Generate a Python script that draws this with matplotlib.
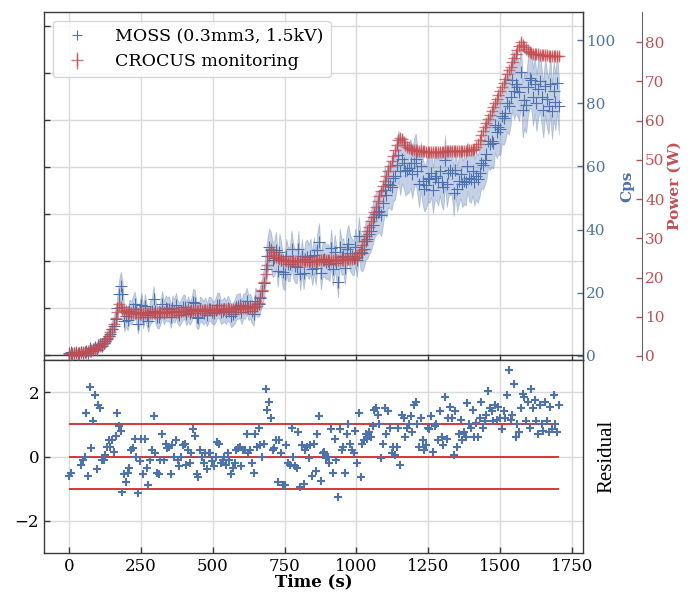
import numpy as np
import matplotlib
matplotlib.use("Agg")
import matplotlib.pyplot as plt
from matplotlib.lines import Line2D

# Sampling times of the run (s)
time_s = np.arange(0, 1705, 6)

# Reactor power from the CROCUS monitoring chain (W)
power_w = [
    0.6, 0.6, 0.65, 0.7, 0.75, 0.8, 0.85, 0.9, 0.95, 1.0,
    1.1, 1.2, 1.3, 1.45, 1.6, 1.8, 2.0, 2.3, 2.6, 3.0,
    3.4, 3.9, 4.5, 5.2, 6.0, 7.0, 8.2, 9.6, 11.3, 13.3,
    12.6, 11.8, 11.4, 11.2, 11.1, 11.0, 11.0, 10.9, 10.9, 10.9,
    10.9, 10.8, 10.9, 10.9, 10.9, 10.9, 10.9, 11.0, 11.0, 11.0,
    11.0, 11.0, 11.1, 11.1, 11.1, 11.1, 11.1, 11.2, 11.2, 11.2,
    11.2, 11.3, 11.3, 11.3, 11.3, 11.4, 11.4, 11.4, 11.4, 11.5,
    11.5, 11.5, 11.5, 11.5, 11.6, 11.6, 11.6, 11.6, 11.7, 11.7,
    11.7, 11.7, 11.8, 11.8, 11.8, 11.8, 11.9, 11.9, 11.9, 11.9,
    12.0, 12.0, 12.0, 12.0, 12.1, 12.1, 12.1, 12.1, 12.2, 12.2,
    12.2, 12.2, 12.3, 12.3, 12.3, 12.3, 12.3, 12.4, 12.5, 12.8,
    13.6, 15.0, 16.8, 18.8, 21.0, 23.3, 25.6, 27.4, 26.6, 25.8,
    25.3, 25.0, 24.8, 24.6, 24.5, 24.4, 24.3, 24.3, 24.2, 24.2,
    24.2, 24.2, 24.2, 24.2, 24.2, 24.2, 24.2, 24.2, 24.3, 24.3,
    24.3, 24.3, 24.3, 24.3, 24.3, 24.4, 24.4, 24.4, 24.4, 24.4,
    24.4, 24.5, 24.5, 24.5, 24.5, 24.5, 24.6, 24.6, 24.6, 24.6,
    24.7, 24.7, 24.7, 24.8, 24.8, 24.9, 25.0, 25.3, 26.0, 27.0,
    28.2, 29.4, 30.6, 31.8, 33.0, 34.3, 35.5, 36.8, 38.1, 39.4,
    40.7, 42.0, 43.3, 44.6, 45.9, 47.2, 48.5, 49.8, 51.1, 52.4,
    53.7, 55.0, 55.7, 55.2, 54.5, 53.9, 53.4, 53.0, 52.8, 52.6,
    52.5, 52.4, 52.3, 52.3, 52.2, 52.2, 52.2, 52.1, 52.1, 52.1,
    52.1, 52.1, 52.1, 52.1, 52.1, 52.1, 52.1, 52.1, 52.2, 52.2,
    52.2, 52.2, 52.2, 52.2, 52.2, 52.2, 52.3, 52.3, 52.3, 52.3,
    52.3, 52.4, 52.4, 52.5, 52.6, 52.8, 53.2, 54.0, 55.1, 56.3,
    57.3, 58.3, 59.4, 60.4, 61.4, 62.5, 63.5, 64.5, 65.6, 66.6,
    67.6, 68.7, 69.7, 70.7, 71.8, 72.8, 73.8, 74.9, 75.9, 76.9,
    78.0, 79.0, 80.0, 79.4, 78.7, 78.2, 77.8, 77.5, 77.3, 77.1,
    77.0, 76.9, 76.9, 76.8, 76.8, 76.7, 76.7, 76.7, 76.6, 76.6,
    76.6, 76.6, 76.6, 76.5, 76.5,
]
power_unc_w = 1.0

# MOSS count rate (counts per second)
moss_cps = [
    0.8, 1.2, 0.6, 1.0, 1.3, 0.7, 1.1, 1.4, 0.9, 1.2,
    1.6, 1.1, 2.4, 1.5, 2.2, 2.9, 2.0, 3.4, 3.8, 3.2,
    4.1, 4.6, 5.5, 6.3, 7.1, 8.4, 9.6, 11.8, 15.2, 19.5,
    22.0, 19.5, 11.0, 12.8, 11.5, 14.2, 13.6, 15.0, 16.4, 14.0,
    10.2, 13.8, 16.0, 12.2, 15.8, 13.0, 11.0, 13.9, 14.4, 18.0,
    14.3, 12.4, 12.2, 13.7, 16.5, 13.6, 15.2, 14.8, 15.0, 12.4,
    15.3, 14.2, 16.0, 13.8, 13.1, 14.3, 15.4, 15.6, 13.3, 15.0,
    13.5, 14.7, 17.2, 16.7, 12.3, 12.0, 15.0, 14.4, 13.7, 14.7,
    13.0, 14.9, 14.9, 14.0, 13.5, 14.6, 16.1, 16.0, 13.9, 14.2,
    14.8, 13.8, 15.2, 14.4, 12.6, 13.3, 14.0, 15.6, 15.7, 16.0,
    13.8, 15.8, 15.8, 17.5, 15.3, 15.8, 14.2, 13.2, 17.5, 16.5,
    16.5, 18.5, 20.5, 23.0, 27.5, 31.5, 34.5, 33.5, 30.5, 31.0,
    33.5, 27.0, 33.0, 30.5, 26.5, 26.0, 31.5, 29.0, 29.2, 34.0,
    30.0, 28.5, 28.3, 33.8, 25.8, 31.5, 26.3, 30.8, 31.3, 29.8,
    31.6, 27.6, 32.0, 27.8, 33.5, 36.0, 26.2, 30.5, 30.7, 29.8,
    30.0, 29.0, 34.3, 27.5, 32.8, 29.5, 23.5, 34.5, 31.2, 31.7,
    28.0, 34.0, 35.5, 32.5, 31.5, 31.0, 34.5, 30.5, 38.0, 33.0,
    32.5, 34.0, 36.5, 37.0, 38.5, 39.5, 41.5, 44.0, 45.0, 45.5,
    46.0, 44.5, 48.5, 52.5, 51.0, 54.5, 54.0, 53.5, 56.5, 57.0,
    60.5, 63.5, 58.5, 62.5, 61.0, 58.5, 59.0, 59.5, 61.0, 57.5,
    61.0, 62.5, 58.5, 54.5, 60.0, 55.5, 53.0, 54.0, 56.5, 56.0,
    58.0, 52.5, 56.5, 57.0, 55.0, 58.5, 55.0, 53.5, 62.0, 54.5,
    58.0, 59.0, 58.0, 51.5, 59.0, 53.0, 55.5, 57.5, 54.5, 55.5,
    55.0, 60.0, 56.5, 56.0, 58.5, 55.0, 57.0, 56.0, 58.0, 61.0,
    60.5, 62.0, 64.0, 68.0, 67.0, 68.0, 67.5, 73.0, 71.0, 72.5,
    72.0, 76.0, 75.5, 77.0, 80.0, 79.0, 82.0, 87.5, 84.0, 86.0,
    85.0, 83.5, 90.0, 78.0, 81.0, 79.5, 85.0, 88.0, 87.5, 82.0,
    86.0, 80.0, 84.5, 87.0, 82.0, 78.0, 85.5, 81.5, 79.0, 86.0,
    77.5, 84.0, 80.5, 86.5, 79.0,
]

# Normalised residual of the MOSS rate against the power model
nan = float("nan")
residual = [
    -0.6, -0.5, nan, nan, nan, nan, nan, -0.25, -0.1, 0.0,
    1.35, -0.6, 2.15, 0.25, 1.1, 1.9, -0.4, 1.6, 1.5, -0.1,
    -0.1, 0.05, 0.3, 0.5, 0.3, 0.5, 0.15, 0.65, 1.35, 0.95,
    0.8, -1.1, -0.55, -0.8, -0.5, -0.35, 0.2, 0.25, 0.55, 0.0,
    -1.15, -0.15, 0.55, -0.55, 0.55, -0.35, -0.9, -0.1, 0.2, 1.25,
    0.1, -0.5, -0.55, -0.1, 0.7, -0.1, 0.4, 0.25, 0.3, -0.55,
    0.35, 0.0, 0.5, -0.1, -0.3, 0.0, 0.35, 0.4, -0.25, 0.2,
    -0.2, 0.1, 0.85, 0.65, -0.55, -0.65, 0.2, 0.0, -0.2, 0.1,
    -0.4, 0.1, 0.1, -0.15, -0.3, 0.0, 0.45, 0.4, -0.2, -0.1,
    0.0, -0.25, 0.1, -0.1, -0.55, -0.35, -0.2, 0.2, 0.25, 0.3,
    -0.3, 0.2, 0.2, 0.7, 0.1, 0.2, -0.2, -0.5, 0.7, 0.3,
    0.9, 0.35, 0.0, 0.4, 2.1, 1.45, 1.7, 1.2, 0.2, 0.25,
    0.5, -0.8, 0.5, 0.1, -0.9, -0.9, 0.35, -0.2, -0.25, 0.9,
    0.0, -0.3, -0.35, 0.75, -0.95, 0.35, -0.85, 0.2, 0.3, -0.05,
    0.35, -0.6, 0.4, -0.45, 0.7, 1.25, -0.75, 0.1, 0.15, -0.05,
    0.0, -0.2, 0.85, -0.5, 0.55, -0.1, -1.25, 0.85, 0.2, 0.3,
    -0.5, 0.7, 1.0, 0.4, 0.2, 0.1, 0.8, -0.2, 1.35, -0.65,
    0.4, 0.5, 0.7, 0.55, 0.75, 0.6, 0.95, 1.45, 1.5, 1.3,
    1.0, -0.05, 0.4, 1.5, 0.7, 1.4, 0.9, 0.1, 0.3, 0.05,
    0.3, 0.9, -0.25, 1.3, 1.2, 0.6, 0.9, 1.0, 1.25, 0.75,
    1.6, 1.7, 1.0, 0.3, 1.2, 0.5, 0.2, 0.35, 0.9, 0.85,
    1.25, 0.15, 0.95, 1.0, 0.5, 1.4, 0.6, 0.35, 1.85, 0.55,
    1.2, 1.55, 1.2, 0.05, 1.4, 0.3, 0.7, 1.15, 0.5, 0.75,
    0.6, 1.65, 1.0, 0.9, 1.45, 0.6, 1.05, 0.6, 1.2, 1.7,
    0.9, 1.1, 1.3, 2.05, 1.5, 1.4, 1.1, 1.6, 1.15, 1.55,
    1.2, 0.85, 1.4, 1.2, 1.9, 2.7, 1.15, 1.3, 2.25, 0.6,
    1.0, 0.75, 1.5, 1.95, 1.85, 1.1, 1.7, 0.9, 2.1, 1.5,
    1.75, 1.1, 0.7, 1.6, 1.0, 0.8, 1.7, 1.1, 0.75, 1.55,
    0.85, 1.9, 1.0, 0.75, 1.6,
]

time_ticks = [0, 250, 500, 750, 1000, 1250, 1500, 1750]
cps_ticks = [0, 20, 40, 60, 80, 100]
power_ticks = [0, 10, 20, 30, 40, 50, 60, 70, 80]
residual_ticks = [-2, 0, 2]
residual_bands = [-1, 0, 1]

BLUE = "#4C72B0"
RED = "#C44E52"
LINE_RED = "#D62728"
SPINE = "#3a3a3a"
GRID = "#dadada"

plt.rcParams["font.family"] = ["DejaVu Serif"]

W, H = 695, 592
fig = plt.figure(figsize=(W / 100, H / 100), dpi=100)
left, right = 44, 583
main_top, split, bottom = 12, 360, 553
ax = fig.add_axes([left / W, 1 - split / H, (right - left) / W, (split - main_top) / H])
axr = fig.add_axes([left / W, 1 - bottom / H, (right - left) / W, (bottom - split) / H], sharex=ax)

t = np.asarray(time_s, dtype=float)
cps = np.asarray(moss_cps, dtype=float)
cps_err = np.sqrt(cps)
pw = np.asarray(power_w, dtype=float)
res = np.asarray(residual, dtype=float)

# ---- base axis of the upper panel: grid and tick frame only
ax.set_xlim(-87, 1788)
ax.set_ylim(-0.096, 7.29)
ax.set_yticks(range(8))
ax.set_xticks(time_ticks)
ax.tick_params(axis="both", direction="in", length=4, width=1, color=SPINE,
               labelleft=False, labelbottom=False)
ax.grid(True, color=GRID, lw=1.0)
ax.set_axisbelow(True)
ax.axhline(0, color=SPINE, lw=1.0, zorder=1)
for s in ax.spines.values():
    s.set_color(SPINE)
    s.set_linewidth(1.0)

# ---- count-rate axis
axc = ax.twinx()
axc.set_ylim(-1.27, 108.9)
axc.set_yticks(cps_ticks)
axc.tick_params(axis="y", direction="in", length=4, width=1, colors=BLUE, labelsize=11, pad=2)
for k, s in axc.spines.items():
    s.set_visible(k == "right")
    s.set_color(SPINE)
axc.fill_between(t, cps - cps_err, cps + cps_err, color=BLUE, alpha=0.33, lw=0.6)
axc.plot(t, cps, "+", color=BLUE, ms=8, mew=0.8)
axc.set_ylabel("Cps", color=BLUE, fontsize=11, fontweight="bold", labelpad=4)

# ---- power axis
axp = ax.twinx()
axp.spines["right"].set_position(("axes", 1.11))
axp.set_ylim(-1.02, 87.7)
axp.set_yticks(power_ticks)
axp.tick_params(axis="y", direction="in", length=4, width=1, colors=RED, labelsize=11, pad=2)
for k, s in axp.spines.items():
    s.set_visible(k == "right")
    s.set_color("#666666")
eb = axp.errorbar(t, pw, yerr=power_unc_w, fmt="+", color=RED, ms=8, mew=1.0,
                  elinewidth=1.0, alpha=0.75)
axp.set_ylabel("Power (W)", color=RED, fontsize=11, fontweight="bold", labelpad=2)

moss_handle = Line2D([], [], ls="", marker="+", color=BLUE, ms=7, mew=0.8)
leg = axp.legend([moss_handle, eb], ["MOSS (0.3mm3, 1.5kV)", "CROCUS monitoring"],
                 loc="upper left", fontsize=12.5, frameon=True, fancybox=True,
                 framealpha=0.85, edgecolor="#d0d0d0", handletextpad=1.2)

# ---- residual panel
axr.set_ylim(-3, 3)
axr.set_yticks(residual_ticks)
axr.set_xticks(time_ticks)
axr.tick_params(axis="both", direction="in", length=4, width=1, color=SPINE, labelsize=12)
axr.grid(True, color=GRID, lw=1.0)
axr.set_axisbelow(True)
for s in axr.spines.values():
    s.set_color(SPINE)
    s.set_linewidth(1.0)
axr.hlines(residual_bands, t[0], t[-1], colors=LINE_RED, lw=1.3, zorder=2)
axr.plot(t, res, "+", color=BLUE, ms=5.5, mew=1.5, zorder=3)
axr.set_xlabel("Time (s)", fontsize=12, fontweight="bold", labelpad=-1)
axr.yaxis.set_label_position("right")
axr.set_ylabel("Residual", fontsize=15, family="Liberation Serif", labelpad=10)

fig.savefig("out.png", dpi=100)
